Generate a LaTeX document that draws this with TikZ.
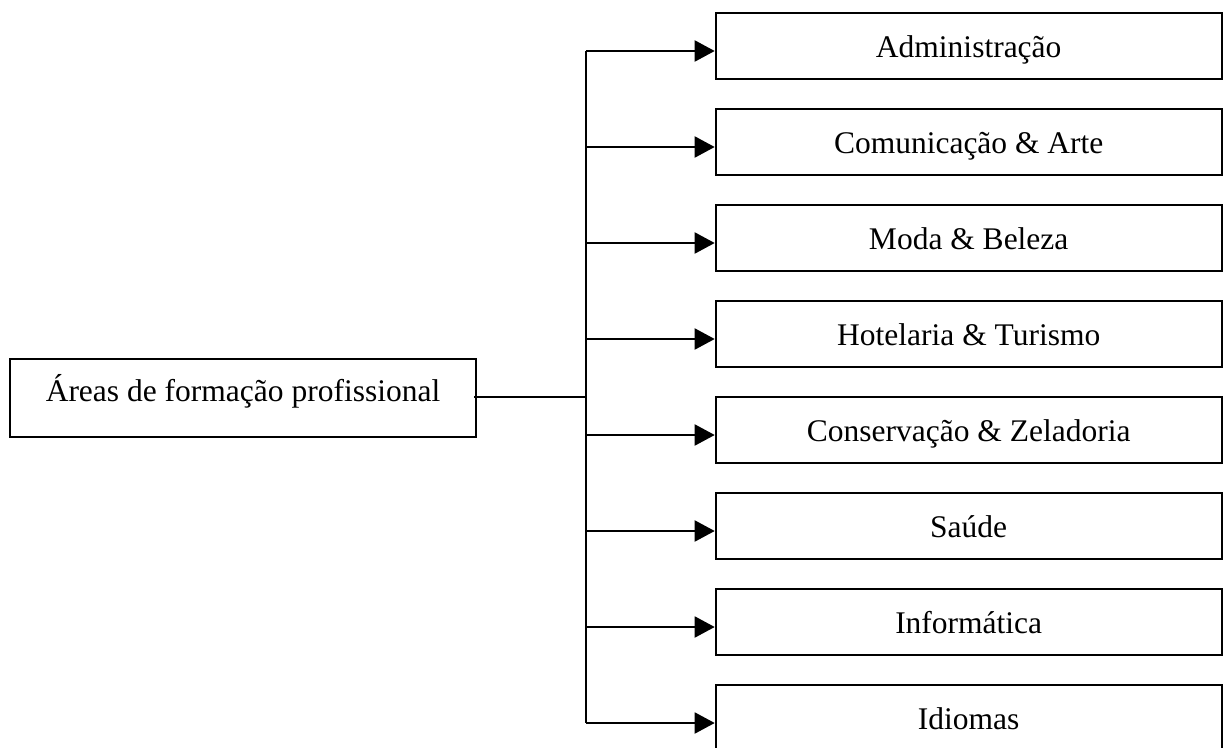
\documentclass[tikz,border=0pt]{standalone}
\usepackage{fontspec}
\setmainfont{Liberation Serif}
\usetikzlibrary{arrows.meta}

\tikzset{
  area/.style={draw,line width=2pt,inner sep=0pt,minimum width=506pt,minimum height=66pt,
    text height=30pt,text depth=7.4pt},
  root/.style={draw,line width=2pt,inner sep=0pt,minimum width=466pt,minimum height=77.4pt,
    text height=27pt,text depth=21pt},
  branch/.style={line width=2pt,-{Triangle[length=20pt,width=21pt]}},
  trunk/.style={line width=2pt}
}

\begin{document}
\begin{tikzpicture}[x=1pt,y=-1pt,font=\fontsize{31.5}{38}\selectfont]
        \useasboundingbox (0,0) rectangle (1223,747);
        \node[root] (areas) at (243,398) {Áreas de formação profissional};
        \node[area] (adm) at (968.7,45.7) {Administração};
        \node[area] (com) at (968.7,141.7) {Comunicação \& Arte};
        \node[area] (moda) at (968.7,237.7) {Moda \& Beleza};
        \node[area] (hot) at (968.7,333.7) {Hotelaria \& Turismo};
        \node[area] (cons) at (968.7,429.7) {Conservação \& Zeladoria};
        \node[area] (saude) at (968.7,525.7) {Saúde};
        \node[area] (info) at (968.7,621.7) {Informática};
        \node[area] (idi) at (968.7,717.7) {Idiomas};
        \coordinate (top) at (586,51);
        \coordinate (bot) at (586,723);
        \coordinate (split) at (586,397);
        \draw[trunk] (top) -- (bot);
        \draw[trunk] ([xshift=-3pt]areas.east |- split) -- (split);
        \draw[branch] (top) -- ([yshift=-5.3pt]adm.west);
        \draw[branch] ([yshift=-5.3pt]com.west -| top) -- ([yshift=-5.3pt]com.west);
        \draw[branch] ([yshift=-5.3pt]moda.west -| top) -- ([yshift=-5.3pt]moda.west);
        \draw[branch] ([yshift=-5.3pt]hot.west -| top) -- ([yshift=-5.3pt]hot.west);
        \draw[branch] ([yshift=-5.3pt]cons.west -| top) -- ([yshift=-5.3pt]cons.west);
        \draw[branch] ([yshift=-5.3pt]saude.west -| top) -- ([yshift=-5.3pt]saude.west);
        \draw[branch] ([yshift=-5.3pt]info.west -| top) -- ([yshift=-5.3pt]info.west);
        \draw[branch] (bot) -- ([yshift=-5.3pt]idi.west);
\end{tikzpicture}
\end{document}
